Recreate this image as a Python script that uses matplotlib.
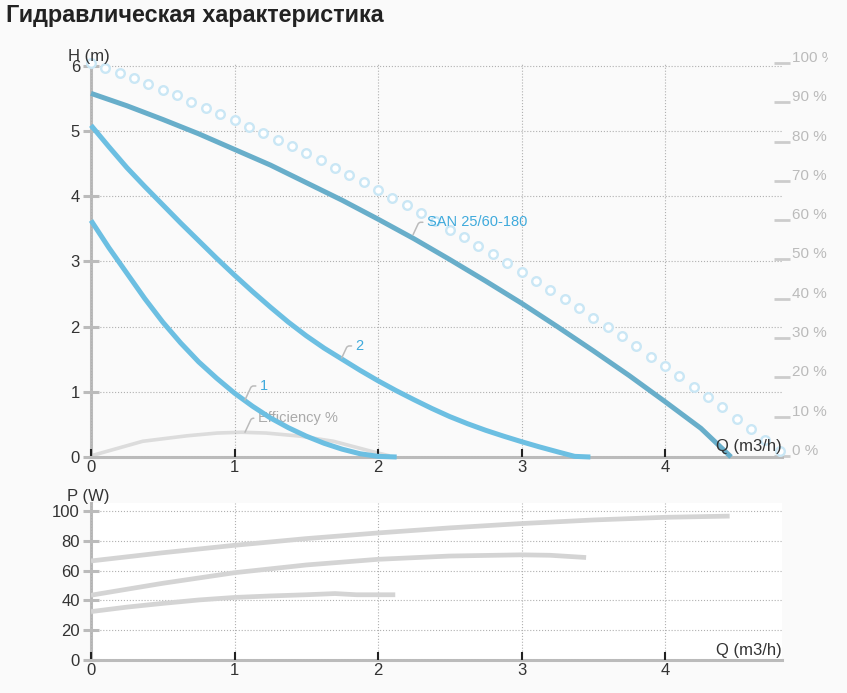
import matplotlib
matplotlib.use("Agg")
import matplotlib.pyplot as plt
from matplotlib.transforms import ScaledTranslation, blended_transform_factory, Bbox, TransformedBbox

plt.rcParams['font.family'] = ['Liberation Sans', 'DejaVu Sans']

# ---------------- data ----------------
title = "Гидравлическая характеристика"

san_q = [0, 0.25, 0.5, 0.75, 1.0, 1.25, 1.5, 1.75, 2.0, 2.25, 2.5, 2.75, 3.0, 3.25, 3.5, 3.75, 4.0, 4.25, 4.46]
san_h = [5.58, 5.39, 5.18, 4.96, 4.72, 4.48, 4.21, 3.94, 3.65, 3.35, 3.03, 2.70, 2.36, 2.00, 1.63, 1.25, 0.85, 0.44, 0.0]

c2_q = [0, 0.125, 0.25, 0.375, 0.5, 0.625, 0.75, 0.875, 1.0, 1.125, 1.25, 1.375, 1.5, 1.625,
        1.75, 1.875, 2.0, 2.125, 2.25, 2.375, 2.5, 2.625, 2.75, 2.875, 3.0, 3.125, 3.25, 3.37, 3.48]
c2_h = [5.09, 4.76, 4.44, 4.15, 3.87, 3.59, 3.32, 3.05, 2.79, 2.54, 2.30, 2.07, 1.86, 1.67,
        1.50, 1.33, 1.17, 1.02, 0.88, 0.745, 0.62, 0.51, 0.41, 0.32, 0.235, 0.155, 0.08, 0.01, 0.0]

c1_q = [0, 0.125, 0.25, 0.375, 0.5, 0.625, 0.75, 0.875, 1.0, 1.125, 1.25, 1.375, 1.5, 1.625,
        1.75, 1.875, 2.0, 2.13]
c1_h = [3.63, 3.21, 2.82, 2.43, 2.07, 1.75, 1.46, 1.21, 0.98, 0.78, 0.60, 0.45, 0.32, 0.21,
        0.12, 0.05, 0.01, 0.0]

max_q = [0.0, 0.1, 0.2, 0.3, 0.4, 0.5, 0.6, 0.7, 0.8, 0.9, 1.0, 1.1, 1.2, 1.3, 1.4, 1.5, 1.6,
         1.7, 1.8, 1.9, 2.0, 2.1, 2.2, 2.3, 2.4, 2.5, 2.6, 2.7, 2.8, 2.9, 3.0, 3.1, 3.2, 3.3,
         3.4, 3.5, 3.6, 3.7, 3.8, 3.9, 4.0, 4.1, 4.2, 4.3, 4.4, 4.5, 4.6, 4.7, 4.8]
max_h = [6.05, 5.97, 5.89, 5.81, 5.72, 5.63, 5.55, 5.45, 5.36, 5.27, 5.17, 5.07, 4.97, 4.87,
         4.77, 4.66, 4.55, 4.44, 4.33, 4.22, 4.10, 3.98, 3.86, 3.74, 3.62, 3.49, 3.37, 3.24,
         3.11, 2.98, 2.84, 2.70, 2.57, 2.43, 2.28, 2.14, 1.99, 1.85, 1.70, 1.54, 1.39, 1.24,
         1.08, 0.92, 0.76, 0.59, 0.43, 0.26, 0.09]

eff_q = [0, 0.36, 0.67, 0.88, 1.05, 1.22, 1.46, 1.69, 1.99, 2.08]
eff_pct = [0, 3.7, 5.1, 5.8, 6.0, 5.8, 5.0, 3.7, 0.8, 0.0]

p3_q = [0, 0.5, 1, 1.5, 2, 2.5, 3, 3.5, 4, 4.45]
p3_w = [66.5, 72.0, 77.0, 81.5, 85.3, 88.7, 91.6, 94.0, 95.8, 96.6]
p2_q = [0, 0.5, 1, 1.5, 2, 2.5, 3, 3.2, 3.45]
p2_w = [43.5, 51.5, 58.6, 63.8, 67.6, 69.8, 70.6, 70.3, 68.8]
p1_q = [0, 0.25, 0.5, 0.75, 1, 1.25, 1.5, 1.7, 1.85, 2.12]
p1_w = [32.5, 35.5, 38.0, 40.3, 42.0, 43.0, 43.8, 44.6, 43.8, 43.8]

q_ticks = [0, 1, 2, 3, 4]
h_ticks = [0, 1, 2, 3, 4, 5, 6]
pct_ticks = [0, 10, 20, 30, 40, 50, 60, 70, 80, 90, 100]
p_ticks = [0, 20, 40, 60, 80, 100]

# ---------------- styles ----------------
W, H = 847, 693
BG = '#fafafa'
AX_GRAY = '#bbbbbb'
TXT = '#333333'
SAN_C = '#68aeca'
CUR_C = '#6cbfe2'
LBL_BLUE = '#3faadc'
PWR_C = '#d4d4d4'

fig = plt.figure(figsize=(W / 100, H / 100), dpi=100, facecolor=BG)
fig.text(6 / W, 1 - 22 / H, title, fontsize=16.8, fontweight='bold', color='#222222',
         ha='left', va='baseline')


def style_axes(a, yticks):
    a.set_facecolor('white')
    for s in ['top', 'right']:
        a.spines[s].set_visible(False)
    for s in ['left', 'bottom']:
        a.spines[s].set_color(AX_GRAY)
        a.spines[s].set_linewidth(2.2)
        a.spines[s].set_zorder(1)
    a.set_xticks(q_ticks)
    a.set_yticks(yticks)
    a.tick_params(axis='y', direction='inout', length=12, width=2.2, color=AX_GRAY,
                  labelsize=12, labelcolor=TXT, pad=2)
    a.tick_params(axis='x', direction='in', length=5.5, width=1.5, color='#222222',
                  labelsize=12, labelcolor=TXT, pad=2)
    a.grid(True, color='#b0b0b0', linestyle=':', linewidth=0.8)


# ---------------- top chart ----------------
ax = fig.add_axes([91 / W, 1 - 457 / H, (782 - 91) / W, (457 - 63) / H])
ax2 = ax.twinx()
ax.set_zorder(2)
ax2.set_zorder(1)
ax.patch.set_visible(False)
ax2.set_facecolor('white')
style_axes(ax, h_ticks)
ax.set_xlim(0, 4.815)
ax.set_ylim(0, 6.046)

for s in ax2.spines.values():
    s.set_visible(False)
ax2.set_ylim(-0.3, 100)
ax2.set_yticks(pct_ticks)
ax2.set_yticklabels([])
ax2.tick_params(axis='y', direction='inout', length=11, width=2.0, color='#cccccc')
off = ScaledTranslation(10 / 100, 5 / 100, fig.dpi_scale_trans)
btr = blended_transform_factory(ax2.transAxes, ax2.transData)
clip = TransformedBbox(Bbox([[0, 0], [828 / W, 1]]), fig.transFigure)
for v in pct_ticks:
    t = ax2.text(1.0, v, f"{v} %", transform=btr + off, ha='left', va='center',
                 fontsize=11, color=AX_GRAY, clip_on=False)
    t.set_clip_box(clip)
    t.set_clip_on(True)

ax2.plot(eff_q, eff_pct, color='#dcdcdc', lw=2.6, solid_capstyle='butt', clip_on=False)

ax.plot(max_q, max_h, linestyle='none', marker='o', ms=6.2, mfc='white', mec='#cae7f5',
        mew=1.7, clip_on=False, zorder=2)
ax.plot(san_q, san_h, color=SAN_C, lw=3.6, clip_on=False, zorder=3, solid_capstyle='butt')
ax.plot(c2_q, c2_h, color=CUR_C, lw=3.6, clip_on=False, zorder=3, solid_capstyle='butt')
ax.plot(c1_q, c1_h, color=CUR_C, lw=3.6, clip_on=False, zorder=3, solid_capstyle='butt')


def leader(a, xy, text, dxy, color):
    a.annotate(text, xy=xy, xytext=dxy, textcoords='offset pixels', ha='left', va='center',
               fontsize=10.5, color=color, zorder=5,
               arrowprops=dict(arrowstyle='-', color='#bbbbbb', lw=1.1, shrinkA=1, shrinkB=0,
                               relpos=(0, 0.5),
                               connectionstyle='angle,angleA=0,angleB=65,rad=2'))


leader(ax, (2.244, 3.41), "SAN 25/60-180", (14, 12.5), LBL_BLUE)
leader(ax, (1.747, 1.52), "2", (14, 12), LBL_BLUE)
leader(ax, (1.073, 0.875), "1", (15, 14), LBL_BLUE)
leader(ax2, (1.073, 6.0), "Efficiency %", (13, 14), '#aaaaaa')

fig.text(68 / W, 1 - 56 / H, "H (m)", ha='left', va='center', fontsize=12, color=TXT)
fig.text(782 / W, 1 - 447 / H, "Q (m3/h)", ha='right', va='center', fontsize=12, color=TXT)

# ---------------- bottom chart ----------------
bx = fig.add_axes([91 / W, 1 - 660 / H, (782 - 91) / W, (660 - 503) / H])
style_axes(bx, p_ticks)
bx.set_xlim(0, 4.815)
bx.set_ylim(0, 105.4)
for q, w in [(p3_q, p3_w), (p2_q, p2_w), (p1_q, p1_w)]:
    bx.plot(q, w, color=PWR_C, lw=3.4, solid_capstyle='butt', zorder=3)

fig.text(67 / W, 1 - 496 / H, "P (W)", ha='left', va='center', fontsize=12, color=TXT)
fig.text(782 / W, 1 - 650 / H, "Q (m3/h)", ha='right', va='center', fontsize=12, color=TXT)

fig.savefig("out.png", dpi=100, facecolor=BG)
